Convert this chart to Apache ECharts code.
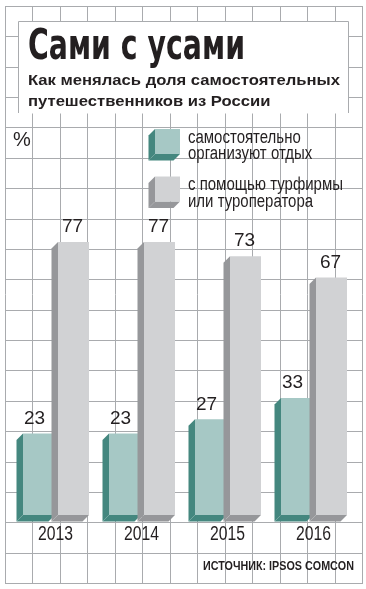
<!DOCTYPE html>
<html>
<head>
<meta charset="utf-8">
<script src="https://cdn.jsdelivr.net/npm/echarts@6/dist/echarts.min.js"></script>
<style>
html,body{margin:0;padding:0;background:#fff;}
#chart{width:366px;height:589px;}
</style>
</head>
<body>
<div id="chart"></div>
<script>
// ---- data ----
const years = ['2013', '2014', '2015', '2016'];
const selfOrganized = [23, 23, 27, 33];
const viaAgency = [77, 77, 73, 67];
const seriesNames = ['самостоятельно организуют отдых', 'с помощью турфирмы или туроператора'];
const legendLines = [['самостоятельно', 'организуют отдых'], ['с помощью турфирмы', 'или туроператора']];
const titleText = 'Сами с усами';
const subtitleLines = ['Как менялась доля самостоятельных', 'путешественников из России'];
const unitText = '%';
const sourceText = 'ИСТОЧНИК: IPSOS COMCON';

// ---- styles ----
const TEXT = '#231f20';
const GRIDC = '#a9abae';
const COLORS = [
  {front: '#a6c8c5', dark: '#44877f'},
  {front: '#d1d2d4', dark: '#96979a'}
];
const DEPTH = 6.5;

const mctx = document.createElement('canvas').getContext('2d');
function measure(text, font) { mctx.font = font; return mctx.measureText(text).width; }

function txt(text, x, yMid, font, scaleX, extra) {
  return Object.assign({
    type: 'text', x: x, y: yMid, scaleX: scaleX, z: 5,
    style: {text: text, font: font, fill: TEXT, verticalAlign: 'middle', align: 'left'}
  }, extra || {});
}

const graphics = [];
// background grid
for (let k = 0; k <= 13; k++) {
  const x = Math.round(5 + 27.46 * k) + 0.5;
  graphics.push({type: 'line', z: 0, shape: {x1: x, y1: 6, x2: x, y2: 583}, style: {stroke: GRIDC, lineWidth: 1}});
}
for (let k = 0; k <= 19; k++) {
  const y = Math.round(6 + 30.37 * k) + 0.5;
  graphics.push({type: 'line', z: 0, shape: {x1: 5, y1: y, x2: 363, y2: y}, style: {stroke: GRIDC, lineWidth: 1}});
}
// title box
graphics.push({type: 'rect', z: 1, shape: {x: 18.5, y: 21.5, width: 330, height: 92}, style: {fill: '#fff'}});
graphics.push({type: 'polyline', z: 2, shape: {points: [[18.5, 113], [18.5, 21.5], [348.5, 21.5], [348.5, 113]]}, style: {stroke: GRIDC, lineWidth: 1, fill: null}});

// title
const titleFont = 'bold 42px "DejaVu Sans"';
graphics.push(txt(titleText, 28, 48, titleFont, 217 / measure(titleText, titleFont)));
// subtitle
const subFont = 'bold 14px "Liberation Sans"';
const subScale = 312 / measure(subtitleLines[0], subFont);
graphics.push(txt(subtitleLines[0], 28, 81, subFont, subScale));
graphics.push(txt(subtitleLines[1], 28, 102, subFont, subScale));
// unit
graphics.push(txt(unitText, 13, 140, '20px "Liberation Sans"', 1));

// legend
const legFont = '18px "Liberation Sans"';
const legScale = 155 / measure(legendLines[1][0], legFont);
const legTops = [129, 176.5];
legTops.forEach(function (t, i) {
  const fx = 155, fw = 25, fh = 25, d = DEPTH;
  graphics.push({type: 'polygon', z: 3, shape: {points: [[fx, t], [fx - d, t + d], [fx - d, t + fh + d], [fx, t + fh]]}, style: {fill: COLORS[i].dark}});
  graphics.push({type: 'polygon', z: 3, shape: {points: [[fx, t + fh], [fx - d, t + fh + d], [fx + fw - d, t + fh + d], [fx + fw, t + fh]]}, style: {fill: COLORS[i].dark}});
  graphics.push({type: 'rect', z: 3, shape: {x: fx, y: t, width: fw, height: fh}, style: {fill: COLORS[i].front}});
  graphics.push(txt(legendLines[i][0], 188, t + 9, legFont, legScale));
  graphics.push(txt(legendLines[i][1], 188, t + 25.5, legFont, legScale));
});

// source
const srcFont = 'bold 12.5px "Liberation Sans"';
graphics.push(txt(sourceText, 203, 567, srcFont, 151 / measure(sourceText, srcFont)));

const yearFont = '19.5px "Liberation Sans"';
const yearScale = 35 / measure('2013', yearFont);

function makeRender(k) {
  return function (params, api) {
    const i = api.value(0), v = api.value(1);
    const base = api.coord([i, 0]);
    const top = api.coord([i, v]);
    const band = api.size([1, 0])[0];
    const x0 = base[0] + band * (k === 0 ? -32.5 : 2.5) / 86;
    const x1 = base[0] + band * (k === 0 ? -0.5 : 33.5) / 86;
    const yb = base[1], yt = top[1], d = DEPTH;
    const lx = base[0] + band * (k === 0 ? -21 : 17) / 86;
    const children = [
      {type: 'polygon', shape: {points: [[x0, yt], [x0 - d, yt + d], [x0 - d, yb + d], [x0, yb]]}, style: {fill: COLORS[k].dark}},
      {type: 'polygon', shape: {points: [[x0, yb], [x0 - d, yb + d], [x1 - d, yb + d], [x1, yb]]}, style: {fill: COLORS[k].dark}},
      {type: 'rect', shape: {x: x0, y: yt, width: x1 - x0, height: yb - yt}, style: {fill: COLORS[k].front}},
      {type: 'text', x: lx, y: yt - 15, style: {text: String(v), font: '19px "Liberation Sans"', fill: TEXT, align: 'center', verticalAlign: 'middle'}}
    ];
    if (k === 0) {
      children.push({type: 'text', x: base[0], y: yb + 20, scaleX: yearScale,
        style: {text: years[i], font: yearFont, fill: TEXT, align: 'center', verticalAlign: 'middle'}});
    }
    return {type: 'group', children: children};
  };
}

const chart = echarts.init(document.getElementById('chart'), null, {renderer: 'canvas'});
chart.setOption({
  animation: false,
  backgroundColor: '#fff',
  grid: {left: 12.5, right: 9.5, top: 160.5, bottom: 74},
  xAxis: {
    type: 'category', data: years,
    axisLine: {show: false}, axisTick: {show: false}, splitLine: {show: false},
    axisLabel: {show: false}
  },
  yAxis: {type: 'value', min: 0, max: 100, show: false},
  graphic: graphics,
  series: [
    {type: 'custom', name: seriesNames[0], data: selfOrganized.map(function (v, i) { return [i, v]; }), renderItem: makeRender(0), z: 3},
    {type: 'custom', name: seriesNames[1], data: viaAgency.map(function (v, i) { return [i, v]; }), renderItem: makeRender(1), z: 4}
  ]
});
</script>
</body>
</html>
